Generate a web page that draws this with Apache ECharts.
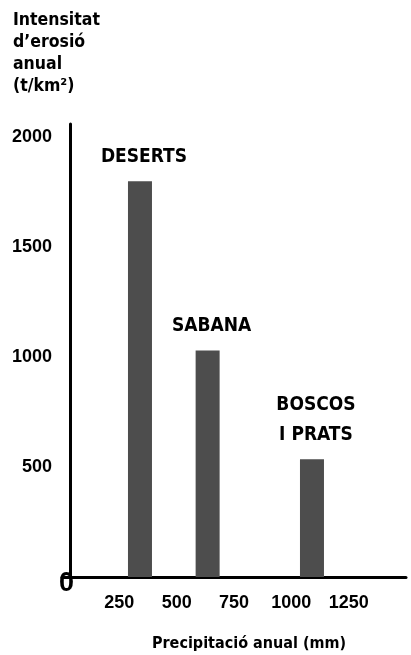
<!DOCTYPE html>
<html>
<head>
<meta charset="utf-8">
<script src="https://cdn.jsdelivr.net/npm/echarts@6/dist/echarts.min.js"></script>
<style>html,body{margin:0;padding:0;background:#fff;}#c{width:411px;height:655px;}</style>
</head>
<body>
<div id="c"></div>
<script>
var categories = ['DESERTS', 'SABANA', 'BOSCOS\nI PRATS'];
var precipitation = [340, 635, 1090];
var erosion = [1800, 1030, 535];
var xTicks = [250, 500, 750, 1000, 1250];
var yTicks = [500, 1000, 1500, 2000];
var titleText = 'Intensitat\nd\u2019erosi\u00f3\nanual\n(t/km\u00b2)';
var xName = 'Precipitaci\u00f3 anual (mm)';

var NARROW = '"DejaVu Sans Condensed", "Liberation Sans Narrow", "Liberation Sans", sans-serif';
var WIDE = '"Liberation Sans", Arial, sans-serif';

var chart = echarts.init(document.getElementById('c'));
chart.setOption({
  backgroundColor: '#fff',
  animation: false,
  title: {
    text: titleText,
    left: 13, top: 9, padding: 0,
    textStyle: { fontFamily: NARROW, fontWeight: 'bold', fontSize: 17.5, lineHeight: 22, color: '#000' }
  },
  grid: { left: 62, right: 5, top: 124, bottom: 78, containLabel: false, outerBoundsMode: 'none' },
  xAxis: {
    type: 'value', min: 0, max: 1500, interval: 250,
    name: xName, nameLocation: 'middle', nameGap: 59,
    nameTextStyle: { fontFamily: NARROW, fontWeight: 'bold', fontSize: 16, color: '#000', padding: [0, 0, 0, 30] },
    axisLine: { show: true, onZero: false, lineStyle: { color: '#000', width: 3 } },
    axisTick: { show: false },
    splitLine: { show: false },
    axisLabel: {
      margin: 17, fontFamily: WIDE, fontWeight: 'bold', fontSize: 18, color: '#000',
      formatter: function (v) { return xTicks.indexOf(v) >= 0 ? String(v) : ''; }
    }
  },
  yAxis: [{
    type: 'value', min: 0, max: 2060, interval: 500, offset: -8,
    axisLine: { show: true, lineStyle: { color: '#000', width: 3 } },
    axisTick: { show: false },
    splitLine: { show: false },
    axisLabel: {
      margin: 18, fontFamily: WIDE, fontWeight: 'bold', fontSize: 18, color: '#000',
      formatter: function (v) { return yTicks.indexOf(v) >= 0 ? String(v) : ''; }
    }
  }, {
    type: 'value', min: 0, max: 2060, interval: 500, position: 'left', offset: 0,
    axisLine: { show: false }, axisTick: { show: false }, splitLine: { show: false },
    axisLabel: {
      margin: -12, fontFamily: WIDE, fontWeight: 'bold', fontSize: 27, color: '#000',
      verticalAlign: 'top', lineHeight: 13,
      formatter: function (v) { return v === 0 ? '0' : ''; }
    }
  }],
  series: [{
    type: 'bar',
    yAxisIndex: 0,
    barWidth: 24,
    itemStyle: { color: '#4d4d4d' },
    data: precipitation.map(function (p, i) { return [p, erosion[i]]; }),
    label: {
      show: true, position: 'top', distance: 9, offset: [4, 0],
      fontFamily: NARROW, fontWeight: 'bold', fontSize: 19, lineHeight: 30, color: '#000',
      formatter: function (p) { return categories[p.dataIndex]; }
    }
  }]
});
</script>
</body>
</html>
